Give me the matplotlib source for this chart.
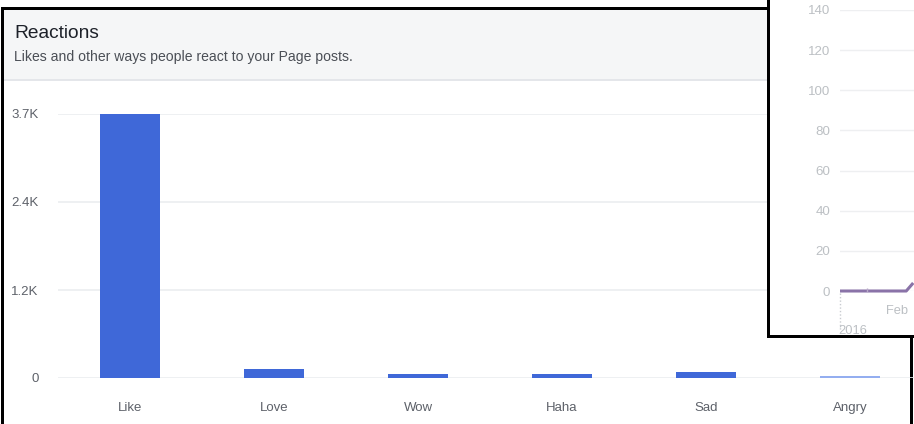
import matplotlib.pyplot as plt
from matplotlib.patches import Rectangle

plt.rcParams["font.family"] = ["Liberation Sans", "DejaVu Sans"]

# main chart: reactions
reactions = ["Like", "Love", "Wow", "Haha", "Sad", "Angry"]
reaction_counts = [3700, 125, 50, 55, 85, 22]
reaction_colors = ["#3f68d8", "#3f68d8", "#3f68d8", "#3f68d8", "#3f68d8", "#94aef0"]
y_ticks = [0, 1233, 2467, 3700]
y_tick_labels = ["0", "1.2K", "2.4K", "3.7K"]

# overlapping chart in the corner (days since 1 Jan 2016)
overlay_days = [0, 31, 76, 84]
overlay_values = [0, 0, 0, 4]
overlay_ticks = [0, 20, 40, 60, 80, 100, 120, 140]

W, H = 914, 424
fig = plt.figure(figsize=(W / 100, H / 100), dpi=100)


def px_box(x0, y0, x1, y1):
    # pixel box (top-left origin) -> figure rect
    return [x0 / W, 1 - y1 / H, (x1 - x0) / W, (y1 - y0) / H]


# background layer in pixel coordinates
bg = fig.add_axes([0, 0, 1, 1], zorder=0)
bg.set_xlim(0, W)
bg.set_ylim(H, 0)
bg.axis("off")
bg.add_patch(Rectangle((4, 10), 764, 70, color="#f5f6f7", lw=0))
bg.add_patch(Rectangle((4, 79), 764, 2, color="#e4e6ea", lw=0))
bg.add_patch(Rectangle((1, 7), 767, 3, color="black", lw=0))
bg.add_patch(Rectangle((1, 7), 3, 417, color="black", lw=0))
bg.add_patch(Rectangle((910, 338), 3, 86, color="black", lw=0))
bg.text(14, 33, "Reactions", fontsize=13.8, color="#1d2129", va="center")
bg.text(14, 57, "Likes and other ways people react to your Page posts.",
        fontsize=10.1, color="#4b4f56", va="center")

# bar chart
ax = fig.add_axes(px_box(58, 114, 922, 378), zorder=1)
ax.set_facecolor("none")
ax.bar(range(len(reactions)), reaction_counts, width=0.417, color=reaction_colors, zorder=2)
ax.set_xlim(-0.5, len(reactions) - 0.5)
ax.set_ylim(0, 3700)
ax.set_yticks(y_ticks)
ax.set_yticklabels(y_tick_labels)
ax.set_xticks(range(len(reactions)))
ax.set_xticklabels(reactions)
ax.tick_params(axis="y", length=0, pad=14, labelsize=9.5, labelcolor="#5d6169")
ax.tick_params(axis="x", length=0, pad=17, labelsize=9.5, labelcolor="#5d6169")
ax.grid(axis="y", color="#ebedf0", lw=1.2, zorder=0)
for s in ax.spines.values():
    s.set_visible(False)

# overlay frame
fr = fig.add_axes([0, 0, 1, 1], zorder=2)
fr.set_xlim(0, W)
fr.set_ylim(H, 0)
fr.axis("off")
fr.add_patch(Rectangle((767, 0), W - 767, 338, color="white", lw=0))
fr.add_patch(Rectangle((767, 0), 3, 338, color="black", lw=0))
fr.add_patch(Rectangle((767, 335), W - 767, 3, color="black", lw=0))
fr.plot([840, 840], [293, 331], color="#c8cbd0", lw=1, ls=(0, (1, 1.5)))
fr.text(853, 331, "2016", fontsize=9.3, color="#bcc0c4", ha="center", va="center")
fr.text(897, 311, "Feb", fontsize=9.3, color="#bcc0c4", ha="center", va="center")

# overlay line chart
ov = fig.add_axes(px_box(840, 10, 914, 291), zorder=3)
ov.set_facecolor("none")
ov.plot(overlay_days, overlay_values, color="#8a73a8", lw=2.2, solid_capstyle="butt", clip_on=False)
ov.plot([31], [0], marker="|", color="#b8a9c9", ms=4, mew=1)
ov.set_xlim(0, 84.9)
ov.set_ylim(0, 140)
ov.set_yticks(overlay_ticks)
ov.set_xticks([])
ov.tick_params(axis="y", length=0, pad=7, labelsize=9.6, labelcolor="#bcc0c4")
ov.grid(axis="y", color="#eeeff1", lw=1)
for s in ov.spines.values():
    s.set_visible(False)

fig.savefig("out.png", dpi=100)
